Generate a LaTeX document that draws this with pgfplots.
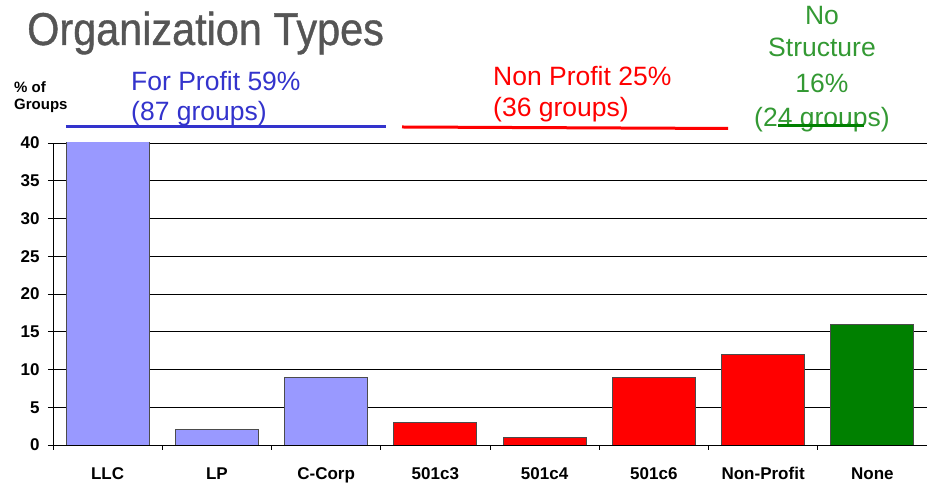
\documentclass[border=0pt]{standalone}
\usepackage{fontspec}
\setmainfont{Liberation Sans}
\newfontfamily\titlefont[FakeStretch=0.9, FakeBold=0.8]{Liberation Sans}
\usepackage{pgfplots}
\pgfplotsset{compat=1.18}

\definecolor{fpbar}{HTML}{9999FF}
\definecolor{npbar}{HTML}{FF0000}
\definecolor{nsbar}{HTML}{008000}
\definecolor{fptext}{HTML}{3333CC}
\definecolor{nstext}{HTML}{339933}
\definecolor{titlegray}{HTML}{555555}

\begin{document}
\begin{tikzpicture}
\path[use as bounding box] (-53pt,-39pt) rectangle (874pt,445pt);
\begin{axis}[
  at={(0pt,0pt)}, anchor=south west,
  scale only axis, width=874pt, height=302pt,
  xmin=-0.5, xmax=7.5, ymin=0, ymax=40,
  axis x line*=bottom, axis y line*=left,
  axis line style={black, line width=0.8pt},
  ytick={0,5,...,40},
  ymajorgrids, grid style={black, line width=0.7pt},
  xtick={0,...,7},
  xticklabels={LLC,LP,C-Corp,501c3,501c4,501c6,Non-Profit,None},
  major x tick style={draw=none},
  minor xtick={-0.5,0.5,...,7.5},
  tick align=outside, tick style={black, line width=0.8pt},
  major tick length=5pt, minor tick length=5pt,
  ticklabel style={font=\fontsize{17}{19}\selectfont\bfseries},
  xticklabel style={yshift=-14pt},
  yticklabel style={xshift=-5pt},
  /pgf/number format/assume math mode=true,
]
\addplot[ybar, bar width=83pt, bar shift=0pt, fill=fpbar, draw=black!70, line width=0.8pt]
  coordinates {(0,48) (1,2) (2,9)};
\addplot[ybar, bar width=83pt, bar shift=0pt, fill=npbar, draw=black!70, line width=0.8pt]
  coordinates {(3,3) (4,1) (5,9) (6,12)};
\addplot[ybar, bar width=83pt, bar shift=0pt, fill=nsbar, draw=black!70, line width=0.8pt]
  coordinates {(7,16)};
\end{axis}

% title and side label
\node[anchor=base west, inner sep=0, text=titlegray, font=\titlefont\fontsize{46}{50}\selectfont]
  at (-26pt,400pt) {Organization Types};
\node[anchor=base west, inner sep=0, font=\fontsize{15}{17}\selectfont\bfseries] at (-39pt,352pt) {\% of};
\node[anchor=base west, inner sep=0, font=\fontsize{15}{17}\selectfont\bfseries] at (-39pt,335pt) {Groups};

% group annotations
\node[anchor=base west, inner sep=0, text=fptext, font=\fontsize{26.5}{29}\selectfont] at (78pt,354pt) {For Profit 59\%};
\node[anchor=base west, inner sep=0, text=fptext, font=\fontsize{26.5}{29}\selectfont] at (78pt,324pt) {(87 groups)};
\draw[fptext, line width=3pt] (13pt,318pt) -- (333pt,318pt);

\node[anchor=base west, inner sep=0, text=npbar, font=\fontsize{26.5}{29}\selectfont] at (440pt,359pt) {Non Profit 25\%};
\node[anchor=base west, inner sep=0, text=npbar, font=\fontsize{26.5}{29}\selectfont] at (440pt,328pt) {(36 groups)};
\draw[npbar, line width=3pt] (349pt,318pt) -- (675pt,316.5pt);

\node[anchor=base, inner sep=0, text=nstext, font=\fontsize{26.5}{29}\selectfont] at (769pt,420pt) {No};
\node[anchor=base, inner sep=0, text=nstext, font=\fontsize{26.5}{29}\selectfont] at (769pt,388pt) {Structure};
\node[anchor=base, inner sep=0, text=nstext, font=\fontsize{26.5}{29}\selectfont] at (769pt,352pt) {16\%};
\node[anchor=base, inner sep=0, text=nstext, font=\fontsize{26.5}{29}\selectfont] at (769pt,318pt) {(24 groups)};
\draw[nsbar, line width=3pt] (725pt,319pt) -- (811pt,319pt);
\end{tikzpicture}
\end{document}
